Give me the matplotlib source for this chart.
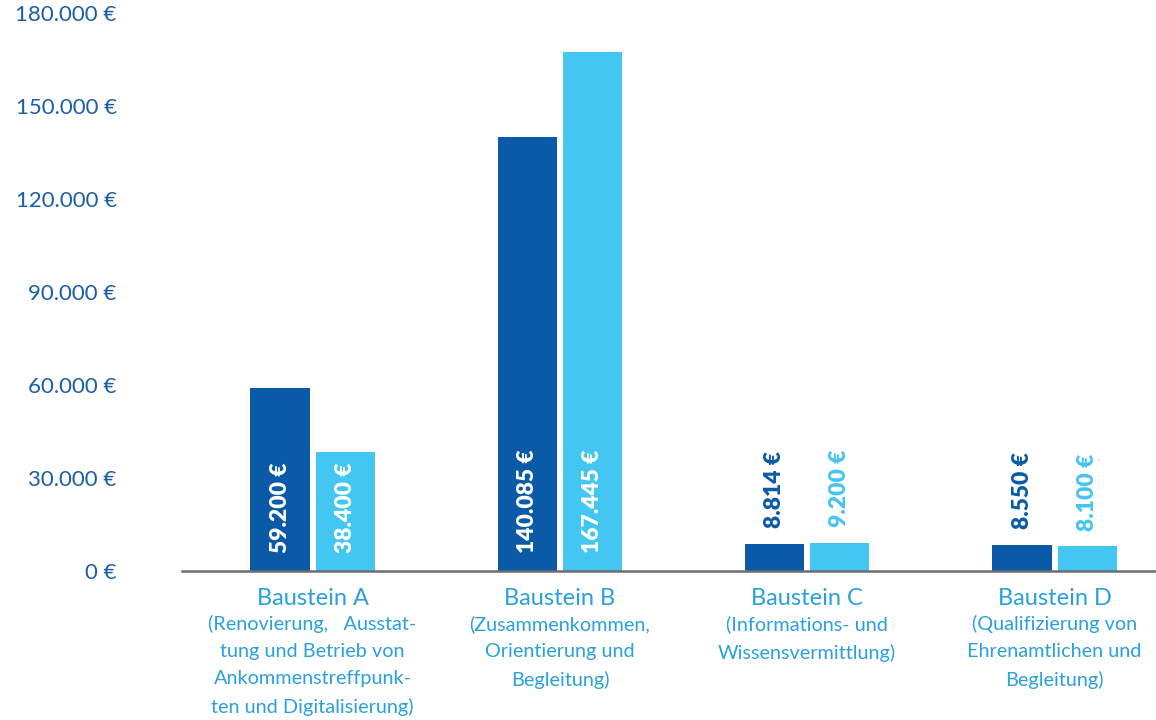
import matplotlib
matplotlib.use('Agg')
import matplotlib.pyplot as plt

# Data
bausteine = ['Baustein A', 'Baustein B', 'Baustein C', 'Baustein D']
beschreibung = ['(Renovierung,   Ausstat-\ntung und Betrieb von\nAnkommenstreffpunk-\nten und Digitalisierung)',
                '(Zusammenkommen,\nOrientierung und\nBegleitung)',
                '(Informations- und\nWissensvermittlung)',
                '(Qualifizierung von\nEhrenamtlichen und\nBegleitung)']
werte_dunkel = [59200, 140085, 8814, 8550]
werte_hell = [38400, 167445, 9200, 8100]
y_ticks = [0, 30000, 60000, 90000, 120000, 150000, 180000]

dark = '#0b5aa7'
light = '#43c6f1'
tick_col = '#1a5ea6'
cat_col = '#2aa0dc'

plt.rcParams['font.family'] = ['Lato', 'DejaVu Sans']


def euro(v):
    # German thousands separator
    return f"{v:,}".replace(',', '.') + ' €'


fig = plt.figure(figsize=(11.56, 7.2), dpi=100)
ax = fig.add_axes([0.1574, 0.2069, 0.8426, 0.7931])

x = list(range(len(bausteine)))
w = 0.239
off = 0.1316
bars_d = ax.bar([i - off for i in x], werte_dunkel, w, color=dark)
bars_h = ax.bar([i + off for i in x], werte_hell, w, color=light)

ax.set_xlim(-0.528, 3.41)
ax.set_ylim(0, 184200)

# Value labels: inside big bars (white), above small bars (bar colour)
for bars, vals, col in [(bars_d, werte_dunkel, dark), (bars_h, werte_hell, light)]:
    for b, v in zip(bars, vals):
        xc = b.get_x() + b.get_width() / 2
        if v > 20000:
            ax.annotate(euro(v), xy=(xc, 0), xytext=(0, 13), textcoords='offset points',
                        rotation=90, ha='center', va='bottom', color='white',
                        fontsize=16.5, fontweight='heavy')
        else:
            ax.annotate(euro(v), xy=(xc, v), xytext=(0, 11), textcoords='offset points',
                        rotation=90, ha='center', va='bottom', color=col,
                        fontsize=16.5, fontweight='heavy')

# Category labels below the axis
trans = ax.get_xaxis_transform()
for i, (name, desc) in enumerate(zip(bausteine, beschreibung)):
    ax.annotate(name, xy=(i, 0), xycoords=trans, xytext=(0, -19.5), textcoords='offset points',
                ha='center', va='center', color=cat_col, fontsize=17)
    ax.annotate(desc, xy=(i, 0), xycoords=trans, xytext=(0, -31.5), textcoords='offset points',
                ha='center', va='top', color=cat_col, fontsize=14.3, linespacing=1.72)

ax.set_xticks([])
ax.set_yticks(y_ticks)
ax.set_yticklabels([euro(t) for t in y_ticks], color=tick_col, fontsize=16)
ax.tick_params(axis='y', length=0, pad=47)

for s in ['left', 'right', 'top']:
    ax.spines[s].set_visible(False)
ax.spines['bottom'].set_color('#6d6d6d')
ax.spines['bottom'].set_linewidth(1.8)

fig.savefig('out.png', dpi=100)
